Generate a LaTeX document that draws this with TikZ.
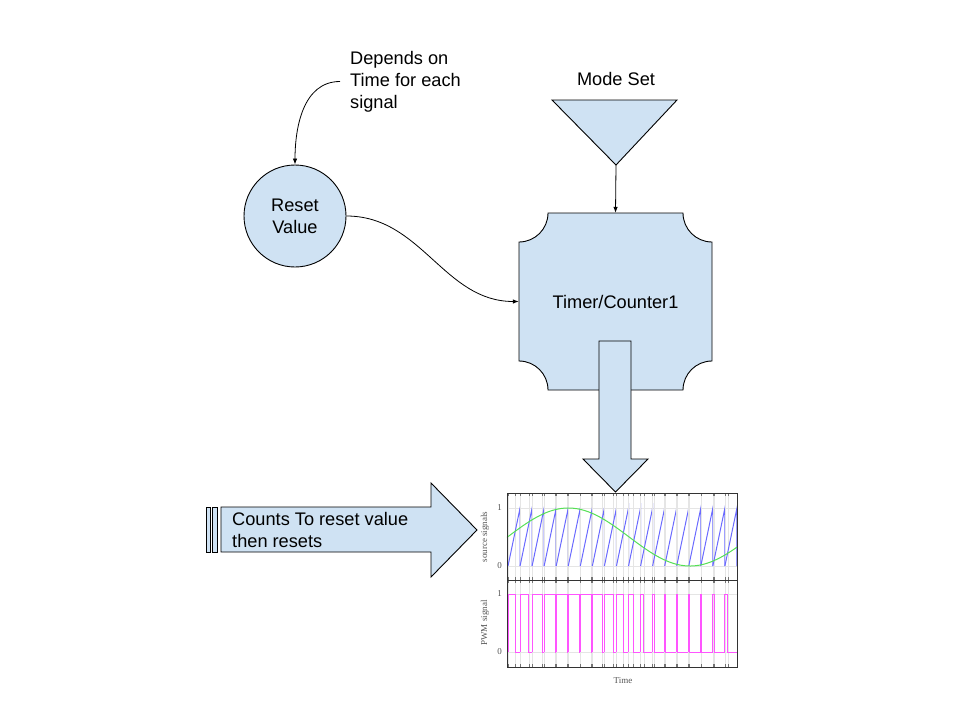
\documentclass[tikz,border=0pt]{standalone}
\usepackage{fontspec}
\setmainfont{Liberation Sans}
\newfontfamily\plotfont{Liberation Serif}
\usepackage{xcolor}
\usetikzlibrary{arrows.meta,calc,positioning}
\definecolor{boxblue}{HTML}{CFE2F3}
\definecolor{sawblue}{HTML}{6A6AFF}
\definecolor{sinegreen}{HTML}{55E055}
\definecolor{pwmpink}{HTML}{FF55FF}
\definecolor{plotgray}{HTML}{555555}
\tikzset{
	shapefill/.style={fill=boxblue, draw=black, line width=0.9pt},
	labeltext/.style={font=\fontsize{18.2}{22}\selectfont, inner sep=0pt},
	link/.style={-{Latex[length=6pt,width=4.5pt]}, line width=0.8pt},
	plottext/.style={font=\plotfont\fontsize{9}{10}\selectfont, text=plotgray, inner sep=0pt},
	plotframe/.style={draw=black!80, line width=0.8pt},
	gridline/.style={draw=black!10, line width=0.6pt},
	tickline/.style={draw=black!55, line width=0.6pt},
	sawline/.style={draw=sawblue, line width=1pt},
	sineline/.style={draw=sinegreen, line width=1pt},
	pwmline/.style={draw=pwmpink, line width=1pt}
}

\begin{document}
\begin{tikzpicture}[x=1pt,y=1pt]
	\useasboundingbox (0,0) rectangle (960,-720);

	% reset value and note
	\node [labeltext, shapefill, circle, minimum size=102pt, align=center] (reset) at (295,-216) {Reset\\Value};
	\node [labeltext, align=left, anchor=west] (note) at (350,-81.5) {Depends on\\Time for each\\signal};

	% mode set
	\filldraw [shapefill]	(552,-100) -- (677,-100) -- (616,-165) -- cycle;
	\coordinate (modetip) at (616,-165);
	\node [labeltext, anchor=base] (mode) at (616,-85) {Mode Set};

	% timer / counter box
	\filldraw [shapefill]	(548,-213) -- (683,-213) .. controls (683,-229) and (696,-242) .. (712,-242)
							-- (712,-361) .. controls (696,-361) and (683,-374) .. (683,-390)
							-- (548,-390) .. controls (548,-374) and (535,-361) .. (519,-361)
							-- (519,-242) .. controls (535,-242) and (548,-229) .. (548,-213) -- cycle;
	\node [labeltext, minimum width=193pt, minimum height=177pt] (timer) at (615.5,-301.5) {Timer/Counter1};

	% block arrows
	\filldraw [shapefill]	(599,-341) -- (631,-341) -- (631,-459) -- (648,-459) -- (615.5,-492)
							-- (583,-459) -- (599,-459) -- cycle;
	\filldraw [shapefill]	(206.7,-507) rectangle (210.7,-552);
	\filldraw [shapefill]	(212,-507) rectangle (217,-552);
	\filldraw [shapefill]	(221,-507) -- (431,-507) -- (431,-483) -- (477,-530) -- (431,-577)
							-- (431,-552) -- (221,-552) -- cycle;
	\node [labeltext, align=left, anchor=west] (counts) at (232,-529.5) {Counts To reset value\\then resets};

	% connectors
	\draw [link] ([xshift=-10pt]note.west) to [out=180, in=90] (reset.north);
	\draw [link] (reset.east) to [out=0, in=180] (timer.west);
	\draw [link] (modetip) -- (timer.north);

	% signal plot
	\foreach \y in {-508,-566,-594,-652}
		\draw [gridline] (507,\y) -- (737,\y);
	\foreach \k in {0,...,18} {
		\pgfmathsetmacro\s{508+12.05*\k}
		\pgfmathsetmacro\d{max(0.04,min(0.96,0.5+0.5*sin((\s-501.5)/243.3*360)))}
		\pgfmathsetmacro\e{\s+12.05*\d}
		\draw [gridline] (\s,-493) -- (\s,-667) (\e,-493) -- (\e,-667);
		\draw [tickline] (\s,-493) -- ++(0,-3) (\e,-493) -- ++(0,-3)
						 (\s,-577) -- (\s,-583) (\e,-577) -- (\e,-583)
						 (\s,-667) -- ++(0,3) (\e,-667) -- ++(0,3);
		\draw [sawline] (\s,-566) -- ({\s+12.05},-508) -- ({\s+12.05},-566);
		\draw [pwmline] (\s,-652) -- (\s,-594) -- (\e,-594) -- (\e,-652) -- ({\s+12.05},-652);
	}
	\draw [sineline] plot [domain=507:737, samples=120, smooth] (\x, {-566+58*(0.5+0.5*sin((\x-507.5)/243.3*360))});
	\draw [plotframe] (507,-493) rectangle (737,-667);
	\draw [plotframe] (507,-580) -- (737,-580);

	\node [plottext, anchor=east] (topone) at (502,-508) {1};
	\node [plottext, anchor=east] (topzero) at (502,-566) {0};
	\node [plottext, anchor=east] (lowone) at (502,-594) {1};
	\node [plottext, anchor=east] (lowzero) at (502,-652) {0};
	\node [plottext, rotate=90] (srclabel) at (485,-537) {source signals};
	\node [plottext, rotate=90] (pwmlabel) at (485,-623) {PWM signal};
	\node [plottext] (timelabel) at (623,-681) {Time};
\end{tikzpicture}
\end{document}
